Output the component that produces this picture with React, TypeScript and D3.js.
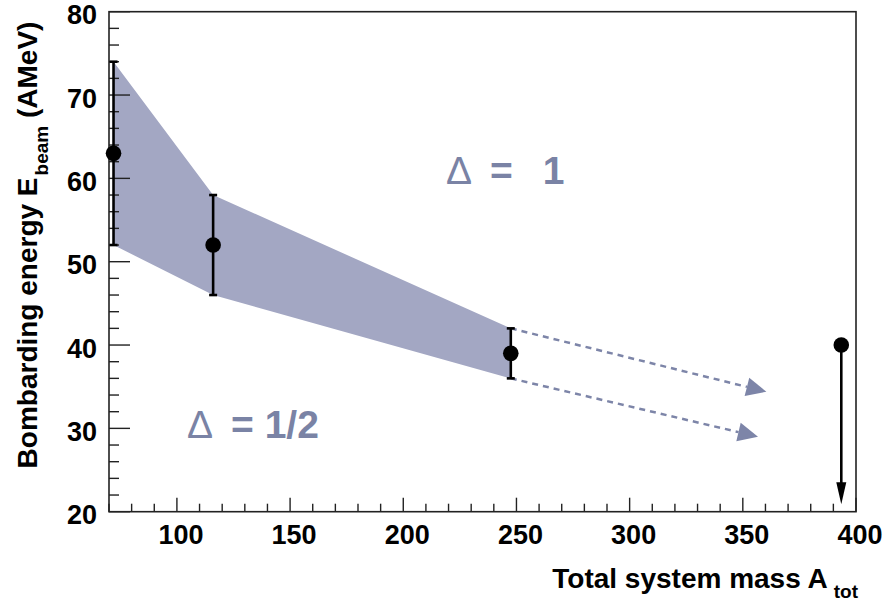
import React from "react";
import * as d3 from "d3";

const massA = [72, 116, 247.5, 393.5];
const energy = [63, 52, 39, 40];
const errHi = [74, 58, 42];
const errLo = [52, 46, 36];
const extrapStart = [
  [247.5, 42],
  [247.5, 36],
];
const extrapEnd = [
  [360.4, 34.4],
  [356.7, 29.0],
];
const limitFrom = [393.5, 40];
const limitTo = [393.5, 20.9];
const xTicks = [100, 150, 200, 250, 300, 350, 400];
const yTicks = [20, 30, 40, 50, 60, 70, 80];

const W = 883;
const H = 603;
const L = 109;
const R = 856;
const T = 11.7;
const B = 511.7;

const FONT = "'Liberation Sans', Arial, Helvetica, sans-serif";
const BAND = "#a3a7c3";
const TXT = "#7a83a5";
const DASH = "#7d85a8";

export default function App() {
  const x = d3.scaleLinear().domain([70, 400]).range([L, R]);
  const y = d3.scaleLinear().domain([20, 80]).range([B, T]);

  const bandPts: [number, number][] = [
    ...massA.slice(0, 3).map((m, i) => [x(m), y(errHi[i])] as [number, number]),
    ...massA
      .slice(0, 3)
      .map((m, i) => [x(m), y(errLo[i])] as [number, number])
      .reverse(),
  ];
  const bandPath = d3.line()(bandPts) + "Z";

  const yMinor = d3.range(20, 80.01, 2);
  const xMinor = d3.range(70, 400.01, 10);

  const arrows = extrapStart.map((s, i) => {
    const e = extrapEnd[i];
    const x0 = x(s[0]), y0 = y(s[1]);
    const x1 = x(e[0]), y1 = y(e[1]);
    const dx = x1 - x0, dy = y1 - y0;
    const len = Math.hypot(dx, dy);
    const ux = dx / len, uy = dy / len;
    const hl = 20, hw = 9.5;
    const bx = x1 - ux * hl, by = y1 - uy * hl;
    const head = `M${x1},${y1}L${bx - uy * hw},${by + ux * hw}L${bx + uy * hw},${by - ux * hw}Z`;
    return { x0, y0, bx, by, head };
  });

  const lx = x(limitFrom[0]);
  const ly0 = y(limitFrom[1]);
  const ly1 = y(limitTo[1]);

  return (
    <svg
      width={W}
      height={H}
      style={{ position: "absolute", left: 0, top: 0, background: "#fff" }}
      fontFamily={FONT}
    >
      <rect x={0} y={0} width={W} height={H} fill="#fff" />
      <path d={bandPath} fill={BAND} stroke="none" />

      {/* frame */}
      <rect x={L} y={T} width={R - L} height={B - T} fill="none" stroke="#222" strokeWidth={1.6} />

      {/* y ticks */}
      {yMinor.map((v) => {
        const major = Math.abs(v % 10) < 1e-6;
        return (
          <line key={"ym" + v} x1={L} x2={L + (major ? 21 : 10)} y1={y(v)} y2={y(v)} stroke="#222" strokeWidth={1.4} />
        );
      })}
      {yTicks.map((v) => (
        <text key={"yl" + v} x={97} y={y(v) + 12.5} textAnchor="end" fontSize={27} fontWeight="bold" fill="#000">
          {v}
        </text>
      ))}

      {/* x ticks */}
      {xMinor.map((v) => {
        const major = Math.abs(v % 50) < 1e-6;
        return (
          <line key={"xm" + v} x1={x(v)} x2={x(v)} y1={B} y2={B - (major ? 14 : 8)} stroke="#222" strokeWidth={1.4} />
        );
      })}
      {xTicks.map((v) => (
        <text key={"xl" + v} x={x(v) + 4} y={544} textAnchor="middle" fontSize={27} fontWeight="bold" fill="#000">
          {v}
        </text>
      ))}

      {/* dashed extrapolation arrows */}
      {arrows.map((a, i) => (
        <g key={"ar" + i}>
          <line x1={a.x0} y1={a.y0} x2={a.bx} y2={a.by} stroke={DASH} strokeWidth={2.5} strokeDasharray="6,5" />
          <path d={a.head} fill={DASH} />
        </g>
      ))}

      {/* error bars */}
      {errHi.map((h, i) => (
        <g key={"eb" + i} stroke="#000" strokeWidth={2.6}>
          <line x1={x(massA[i])} x2={x(massA[i])} y1={y(h)} y2={y(errLo[i])} />
          <line x1={x(massA[i]) - 4} x2={x(massA[i]) + 4} y1={y(h)} y2={y(h)} />
          <line x1={x(massA[i]) - 4} x2={x(massA[i]) + 4} y1={y(errLo[i])} y2={y(errLo[i])} />
        </g>
      ))}

      {/* upper limit arrow */}
      <line x1={lx} x2={lx} y1={ly0} y2={ly1 - 20} stroke="#000" strokeWidth={2.6} />
      <path d={`M${lx},${ly1}L${lx - 5},${ly1 - 22}L${lx + 5},${ly1 - 22}Z`} fill="#000" />

      {/* points */}
      {massA.map((m, i) => (
        <circle key={"pt" + i} cx={x(m)} cy={y(energy[i])} r={7.8} fill="#000" />
      ))}

      {/* annotations */}
      <text x={446} y={184} fontSize={39} fill={TXT} fontWeight="bold">
        <tspan fontWeight="normal">Δ</tspan>
        <tspan dx={18}>=</tspan>
        <tspan dx={30}>1</tspan>
      </text>
      <text x={187} y={438} fontSize={39} fill={TXT} fontWeight="bold">
        <tspan fontWeight="normal">Δ</tspan>
        <tspan dx={18}>= 1/2</tspan>
      </text>

      {/* axis titles */}
      <text x={858} y={588} textAnchor="end" fontSize={28} fontWeight="bold" fill="#000">
        Total system mass A
        <tspan dx={6} dy={10} fontSize={19}>tot</tspan>
      </text>
      <text
        transform={`translate(37,${245}) rotate(-90)`}
        textAnchor="middle"
        fontSize={28}
        fontWeight="bold"
        fill="#000"
      >
        Bombarding energy E
        <tspan dx={2} dy={11} fontSize={19}>beam</tspan>
        <tspan dy={-11}> (AMeV)</tspan>
      </text>
    </svg>
  );
}
